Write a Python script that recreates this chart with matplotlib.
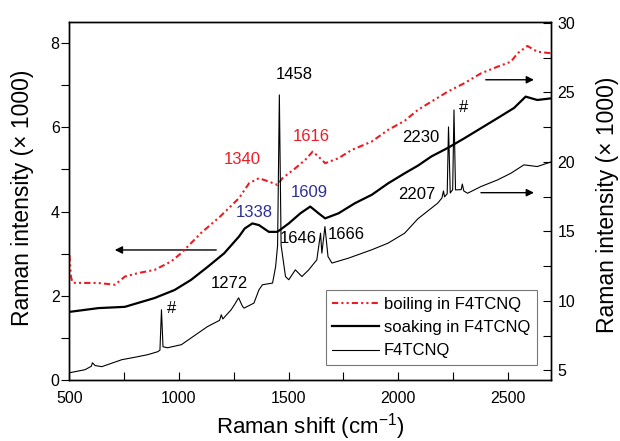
import matplotlib
matplotlib.use("Agg")
import matplotlib.pyplot as plt
from matplotlib.ticker import MultipleLocator

plt.rcParams['font.family'] = ['Liberation Sans', 'DejaVu Sans']
plt.rcParams['mathtext.fontset'] = 'custom'
plt.rcParams['mathtext.rm'] = 'Liberation Sans'
plt.rcParams['mathtext.default'] = 'regular'

# ---- data ----
# soaking in F4TCNQ (left axis, x1000)
soak_x = [500, 632, 753, 889, 980, 1055, 1131, 1206, 1274, 1300, 1335, 1365, 1410,
          1449, 1501, 1554, 1599, 1637, 1667, 1728, 1803, 1880, 1954, 2030, 2090,
          2152, 2226, 2302, 2378, 2454, 2529, 2582, 2635, 2700]
soak_y = [1.62, 1.71, 1.74, 1.95, 2.14, 2.38, 2.69, 3.01, 3.41, 3.60, 3.72, 3.68, 3.52,
          3.52, 3.72, 3.96, 4.12, 3.96, 3.84, 3.96, 4.20, 4.40, 4.67, 4.91, 5.09,
          5.31, 5.51, 5.74, 5.98, 6.22, 6.46, 6.73, 6.65, 6.69]

# boiling in F4TCNQ (right axis, x1000)
boil_x = [500, 503, 507, 515, 571, 630, 708, 753, 814, 889, 964, 1010, 1055, 1100,
          1190, 1274, 1320, 1365, 1410, 1449, 1472, 1531, 1576, 1610, 1637, 1667,
          1728, 1788, 1879, 1954, 2030, 2090, 2152, 2226, 2302, 2378, 2454, 2515,
          2545, 2590, 2635, 2700]
boil_y = [13.3, 12.7, 11.7, 11.3, 11.29, 11.29, 11.16, 11.75, 12.0, 12.23, 12.83,
          13.43, 14.15, 14.87, 16.1, 17.39, 18.46, 18.82, 18.58, 18.34, 18.82, 19.54,
          20.14, 20.73, 20.37, 19.90, 20.26, 20.85, 21.45, 22.29, 22.95, 23.73, 24.33,
          25.04, 25.65, 26.36, 26.84, 27.2, 27.8, 28.33, 27.92, 27.8]

# F4TCNQ (right axis, x1000)
f4_x = [500, 571, 600, 605, 617, 648, 739, 800, 857, 902, 913, 920, 927, 948, 1011,
        1129, 1185, 1193, 1200, 1238, 1256, 1272, 1290, 1297, 1342, 1365, 1381,
        1427, 1441, 1450, 1458, 1466, 1486, 1501, 1531, 1561, 1592, 1629, 1646, 1652,
        1666, 1680, 1698, 1773, 1879, 1954, 2030, 2090, 2181, 2200, 2207, 2212, 2224,
        2230, 2238, 2249, 2255, 2262, 2288, 2293, 2300, 2317, 2378, 2454, 2515, 2574,
        2635, 2700]
f4_y = [4.83, 5.05, 5.3, 5.55, 5.35, 5.27, 5.77, 5.95, 6.13, 6.34, 6.45, 9.36, 6.7,
        6.63, 6.85, 8.14, 8.6, 9.0, 8.7, 9.36, 9.8, 10.22, 9.6, 9.48, 9.84, 10.8,
        11.16, 11.28, 12.47, 14.0, 24.81, 14.0, 11.75, 11.52, 12.23, 11.75, 12.23,
        12.95, 14.87, 13.43, 15.34, 13.19, 12.72, 13.07, 13.67, 14.15, 14.87, 15.9,
        17.03, 17.4, 17.9, 17.48, 17.7, 22.51, 17.76, 18.0, 23.73, 17.98, 18.0, 18.4,
        17.9, 17.74, 18.22, 18.70, 19.18, 19.78, 19.66, 20.0]

labels = ['boiling in F4TCNQ', 'soaking in F4TCNQ', 'F4TCNQ']

RED = '#ec1c24'
BLUE = '#2e3192'

fig = plt.figure(figsize=(6.2, 4.41), dpi=100)
ax = fig.add_axes([0.112, 0.138, 0.7775, 0.812])
ax2 = ax.twinx()

l1, = ax2.plot(boil_x, boil_y, color=RED, lw=1.5,
               dashes=(3, 1.5, 1, 1.5, 1, 1.5), label=labels[0])
l2, = ax.plot(soak_x, soak_y, color='black', lw=1.6, label=labels[1])
l3, = ax2.plot(f4_x, f4_y, color='black', lw=0.8, label=labels[2])

ax.set_xlim(500, 2700)
ax.set_ylim(0, 8.5)
ax2.set_ylim(4.3, 30.05)

ax.xaxis.set_major_locator(MultipleLocator(500))
ax.xaxis.set_minor_locator(MultipleLocator(250))
ax.yaxis.set_major_locator(MultipleLocator(2))
ax.yaxis.set_minor_locator(MultipleLocator(1))
ax2.yaxis.set_major_locator(MultipleLocator(5))
ax2.yaxis.set_minor_locator(MultipleLocator(2.5))

ax.tick_params(axis='x', which='both', direction='in', length=6, width=0.8,
               labelsize=11.5, pad=8, top=False)
ax.tick_params(axis='y', which='both', direction='out', length=6, width=0.8,
               labelsize=11.5, pad=1)
ax2.tick_params(axis='y', which='both', direction='in', length=6, width=0.8,
                labelsize=11.5, pad=4.5)

for a in (ax, ax2):
    for s in a.spines.values():
        s.set_linewidth(1.0)

fig.text(0.5, (441 - 433) / 441, 'Raman shift (cm$^{-1}$)', fontsize=16,
         ha='center', va='baseline')
ax.set_ylabel('Raman intensity (× 1000)', fontsize=16.5)
ax.yaxis.set_label_coords(-0.073, 0.51)
ax2.set_ylabel('Raman intensity (× 1000)', fontsize=16.5, rotation=90)
ax2.yaxis.set_label_coords(1.092, 0.49)

# annotations (in left-axis data coords)
fs = 12
ann = [
    ('1458', 1524, 7.25, 'black'),
    ('1616', 1604, 5.78, RED),
    ('1340', 1289, 5.23, RED),
    ('1609', 1596, 4.45, BLUE),
    ('1338', 1342, 3.98, BLUE),
    ('1646', 1546, 3.37, 'black'),
    ('1666', 1764, 3.45, 'black'),
    ('2230', 2104, 5.76, 'black'),
    ('2207', 2086, 4.40, 'black'),
    ('#', 2298, 6.46, 'black'),
    ('1272', 1230, 2.30, 'black'),
    ('#', 964, 1.69, 'black'),
]
for t, x, y, c in ann:
    ax.text(x, y, t, color=c, fontsize=fs, ha='center', va='center')

arrow = dict(arrowstyle='-|>', lw=1.0, color='black', mutation_scale=11,
             shrinkA=0, shrinkB=0)
ax.annotate('', xy=(707, 3.09), xytext=(1170, 3.09), arrowprops=arrow)
ax.annotate('', xy=(2620, 7.13), xytext=(2400, 7.13), arrowprops=arrow)
ax.annotate('', xy=(2620, 4.45), xytext=(2378, 4.45), arrowprops=arrow)

leg = ax2.legend(handles=[l1, l2, l3], loc='lower right',
                 bbox_to_anchor=(0.97, 0.042), fontsize=12, frameon=True,
                 fancybox=False, edgecolor='#555555', handlelength=2.8,
                 handletextpad=0.3, labelspacing=0.5, borderpad=0.4,
                 borderaxespad=0)
leg.get_frame().set_linewidth(0.8)

fig.savefig('out.png', dpi=100)
